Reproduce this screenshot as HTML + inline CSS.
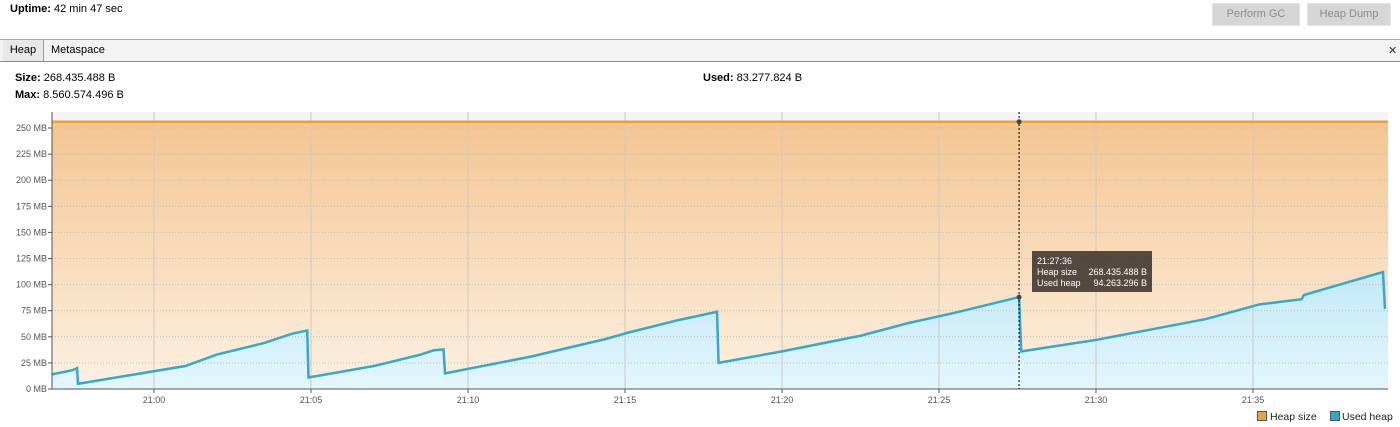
<!DOCTYPE html>
<html><head><meta charset="utf-8">
<style>
body{margin:0;width:1400px;height:427px;background:#fff;font-family:"Liberation Sans",sans-serif;font-size:11px;color:#000;position:relative;overflow:hidden}
.abs{position:absolute}
.btn{position:absolute;top:3px;height:21px;background:#d6d6d6;border:1px solid #e4e4e4;color:#8a8a8a;font-size:11px;text-align:center;line-height:21px}
b{font-weight:bold}
</style></head><body>
<div class="abs" style="left:10px;top:3px"><b>Uptime:</b> 42 min 47 sec</div>
<div class="btn" style="left:1212px;width:86px">Perform GC</div>
<div class="btn" style="left:1307px;width:82px">Heap Dump</div>
<div class="abs" style="left:0;top:39px;width:1400px;height:21px;background:#f3f3f3;border-top:1px solid #a8a8a8;border-bottom:1px solid #8a8a8a"></div>
<div class="abs" style="left:3px;top:40px;width:40px;height:21px;background:#e8e8e8;border-right:1px solid #999;line-height:20px;text-align:center">Heap</div>
<div class="abs" style="left:51px;top:40px;line-height:20px">Metaspace</div>
<div class="abs" style="left:1388px;top:41px;line-height:20px;font-size:11px;color:#333">✕</div>
<div class="abs" style="left:15px;top:72px"><b>Size:</b> 268.435.488 B</div>
<div class="abs" style="left:15px;top:89px"><b>Max:</b> 8.560.574.496 B</div>
<div class="abs" style="left:703px;top:72px"><b>Used:</b> 83.277.824 B</div>
<svg class="abs" style="left:0;top:0" width="1400" height="427" id="chart">
<defs>
<linearGradient id="og" x1="0" y1="0" x2="0" y2="1"><stop offset="0" stop-color="#f3c591"/><stop offset="1" stop-color="#fdf1e3"/></linearGradient>
<linearGradient id="bg" x1="0" y1="0" x2="0" y2="1"><stop offset="0" stop-color="#c2e9f8"/><stop offset="1" stop-color="#e3f6fd"/></linearGradient>
</defs>
<rect x="52" y="112" width="1336" height="277" fill="#f4f4f4"/>
<g id="g"></g>
</svg>
<script>
const yTicks=[0,25,50,75,100,125,150,175,200,225,250];
const xTickMins=[0,5,10,15,20,25,30,35];
const xTickLabels=["21:00","21:05","21:10","21:15","21:20","21:25","21:30","21:35"];
const heapSize=256;
const usedT=[-3.25,-2.6,-2.45,-2.42,1,2,3.5,4.4,4.88,4.92,7,8.5,8.9,9.22,9.27,12,14.4,15.1,16.7,17.93,17.98,20,22.5,24,25.5,27.55,27.62,30,33.5,35.2,36.55,36.62,39.14,39.2,39.4];
const usedMB=[14,18,20,5,22,33,44,53,56,11,22,33,37,38,15,31,48,54,66,74,25,36,51,63,73,88,36,47,67,81,86,90,112,78,78];
const cursorT=27.55, cursorUsed=88;
const X0=52,X1=1388,Y0=389,YT=112;
const x=t=>154+t*31.4, y=v=>389-v*261/250;
const NS="http://www.w3.org/2000/svg", g=document.getElementById('g');
function mk(tag,a,name){const e=document.createElementNS(NS,tag);for(const k in a)e.setAttribute(k,a[k]);


g.appendChild(e);return e;}
mk('rect',{x:X0,y:y(heapSize),width:X1-X0,height:Y0-y(heapSize),fill:'url(#og)'},'heap-size-area');
let d=`M${X0},${Y0}`;usedT.forEach((t,i)=>{d+=`L${Math.min(x(t),X1)},${y(usedMB[i])}`});d+=`L${X1},${Y0}Z`;
mk('path',{d:d,fill:'url(#bg)'},'used-heap-area');
yTicks.forEach(v=>{if(v>0)mk('line',{x1:X0,x2:X1,y1:y(v),y2:y(v),stroke:'#c4bcb4','stroke-dasharray':'1,2','stroke-width':1},'y-grid-line');
mk('line',{x1:X0-4,x2:X0,y1:y(v),y2:y(v),stroke:'#555'},'y-tick');
const t=mk('text',{x:X0-5,y:y(v)+3,'text-anchor':'end','font-size':9,fill:'#555','font-family':'Liberation Sans, sans-serif'},'y-tick-label');t.textContent=v+' MB';});
xTickMins.forEach((m,i)=>{mk('line',{x1:x(m),x2:x(m),y1:YT,y2:Y0,stroke:'#d0c8c0'},'x-grid-line');
mk('line',{x1:x(m),x2:x(m),y1:Y0,y2:Y0+4,stroke:'#555'},'x-tick');
const t=mk('text',{x:x(m),y:Y0+14,'text-anchor':'middle','font-size':9,fill:'#555','font-family':'Liberation Sans, sans-serif'},'x-tick-label');t.textContent=xTickLabels[i];});
mk('line',{x1:X0,x2:X1,y1:y(heapSize),y2:y(heapSize),stroke:'#e9a040','stroke-width':2.5},'heap-size-line');
let l='';usedT.forEach((t,i)=>{l+=(i?'L':'M')+Math.min(x(t),X1-2)+','+y(usedMB[i])});
mk('path',{d:l,fill:'none',stroke:'#35a8cc','stroke-width':2.5},'used-heap-line');
mk('line',{x1:X0,x2:X0,y1:YT,y2:Y0,stroke:'#555'},'y-axis');
mk('line',{x1:X0,x2:X1,y1:Y0,y2:Y0,stroke:'#555'},'x-axis');
const cx=x(cursorT);
mk('line',{x1:cx,x2:cx,y1:YT,y2:Y0,stroke:'#000','stroke-dasharray':'2,2'},'cursor-line');
mk('circle',{cx:cx,cy:y(heapSize),r:2.5,fill:'#444'},'cursor-dot-heap');
mk('circle',{cx:cx,cy:y(cursorUsed),r:2.5,fill:'#444'},'cursor-dot-used');
mk('rect',{x:1032,y:251,width:120,height:41,fill:'#4a4038','fill-opacity':0.95},'tooltip-box');
[["21:27:36",""],["Heap size","268.435.488 B"],["Used heap","94.263.296 B"]].forEach((r,i)=>{
const a=mk('text',{x:1037,y:264+i*11,'font-size':9,fill:'#fff','font-family':'Liberation Sans, sans-serif'},'tooltip-text');a.textContent=r[0];
if(r[1]){const b=mk('text',{x:1147,y:264+i*11,'font-size':9,fill:'#fff','text-anchor':'end','font-family':'Liberation Sans, sans-serif'},'tooltip-value');b.textContent=r[1];}});
mk('rect',{x:1257.5,y:411.5,width:9,height:9,fill:'#eda043',stroke:'#555'},'legend-heap-size-swatch');
let t1=mk('text',{x:1270,y:420,'font-size':10.5,fill:'#222','font-family':'Liberation Sans, sans-serif'},'legend-heap-size');t1.textContent='Heap size';
mk('rect',{x:1330.5,y:411.5,width:9,height:9,fill:'#2fa6d2',stroke:'#555'},'legend-used-heap-swatch');
let t2=mk('text',{x:1342,y:420,'font-size':10.5,fill:'#222','font-family':'Liberation Sans, sans-serif'},'legend-used-heap');t2.textContent='Used heap';
</script>
</body></html>
